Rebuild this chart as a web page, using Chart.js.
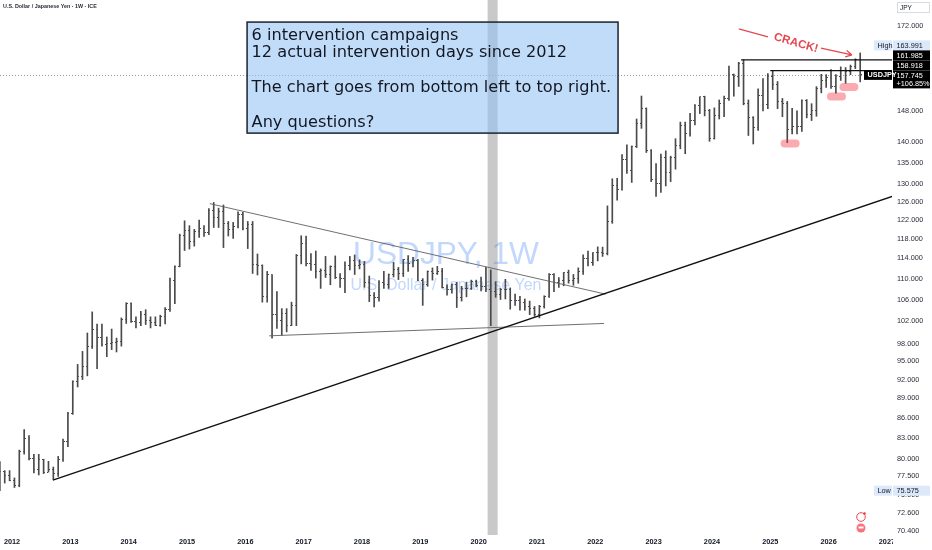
<!DOCTYPE html>
<html>
<head>
<meta charset="utf-8">
<script src="https://cdn.jsdelivr.net/npm/chart.js@4.4.1/dist/chart.umd.min.js"></script>
<style>
  html, body { margin: 0; padding: 0; background: #fff; }
</style>
</head>
<body>
<canvas id="chart" width="932" height="550"></canvas>
<script>
// ---- data (monthly USDJPY bars) ----
const firstMonth = '2011-10';
const yearTicks = [2012, 2013, 2014, 2015, 2016, 2017, 2018, 2019, 2020, 2021, 2022, 2023, 2024, 2025, 2026, 2027];
const priceTicks = [70.4, 72.6, 75, 77.5, 80, 83, 86, 89, 92, 95, 98, 102, 106, 110, 114, 118, 122, 126, 130, 135, 140, 148, 172];

const opens = [
  77.0, 78.2, 77.6,
  76.9, 76.2, 81.0, 82.9, 80.0, 78.4, 79.8, 78.1, 78.4, 77.9, 79.8, 82.5,
  86.7, 91.7, 92.5, 94.2, 97.5, 100.5, 99.1, 97.9, 98.1, 98.3, 98.4, 102.4,
  105.3, 102.0, 101.8, 103.2, 102.2, 101.8, 101.3, 102.8, 104.1, 109.6, 112.3, 118.7,
  119.8, 117.5, 119.6, 120.1, 119.4, 124.1, 122.5, 123.9, 121.2, 119.9, 120.6, 123.1,
  120.2, 121.1, 112.7, 112.6, 106.5, 110.7, 103.2, 102.1, 103.4, 101.3, 104.8, 114.5,
  117.0, 113.0, 112.8, 111.4, 111.5, 110.8, 112.4, 110.3, 110.0, 112.5, 113.6, 112.5,
  112.7, 109.2, 106.7, 106.3, 109.3, 108.8, 110.7, 111.8, 111.0, 113.7, 112.9, 113.5,
  109.7, 108.9, 111.4, 110.9, 111.4, 108.3, 107.9, 108.8, 106.3, 108.1, 108.0, 109.5,
  108.7, 108.4, 107.9, 107.5, 106.9, 107.8, 107.9, 105.9, 105.9, 105.5, 104.7, 104.3,
  103.2, 104.7, 106.6, 110.7, 109.3, 109.6, 111.1, 109.7, 110.0, 111.3, 113.9, 113.2,
  115.1, 115.1, 115.0, 121.7, 129.8, 128.7, 135.7, 133.3, 138.9, 144.7, 148.7, 138.1,
  131.1, 130.1, 136.2, 132.8, 136.3, 139.3, 144.3, 142.3, 145.5, 149.4, 151.7, 148.2,
  141.0, 146.9, 150.0, 151.35, 157.8, 157.3, 160.9, 150.0, 146.2, 143.6, 152.0, 149.8,
  157.2, 155.2, 150.6, 149.9, 143.1, 144.0, 144.0, 150.7, 147.1, 148.0, 154.1, 156.2,
  156.9, 154.6, 157.4, 158.9, 158.6, 160.2, 162.0
];
const highs = [
  79.55, 78.3, 78.3,
  77.3, 81.2, 84.2, 83.3, 80.6, 80.6, 79.9, 79.6, 78.8, 80.3, 82.8, 86.8,
  91.8, 94.5, 96.7, 99.9, 103.7, 101.5, 101.5, 99.2, 100.6, 99.0, 102.6, 105.4,
  105.4, 102.8, 103.8, 104.1, 102.8, 102.8, 103.1, 104.5, 110.1, 112.5, 119.0, 121.85,
  120.8, 120.0, 122.0, 120.8, 124.5, 125.86, 124.6, 125.3, 121.7, 121.5, 123.8, 123.7,
  121.7, 121.7, 114.9, 112.7, 111.4, 110.8, 107.5, 104.3, 104.3, 105.5, 114.8, 118.66,
  118.6, 114.95, 115.5, 111.9, 114.4, 112.5, 114.5, 111.0, 113.3, 114.4, 114.7, 113.7,
  113.4, 110.5, 107.3, 109.6, 111.4, 110.9, 113.2, 112.2, 113.8, 114.55, 114.2, 113.8,
  110.0, 111.5, 112.1, 112.4, 112.0, 108.8, 109.0, 109.3, 108.5, 109.3, 109.7, 109.7,
  110.3, 112.2, 111.7, 109.4, 108.1, 109.85, 108.2, 107.0, 106.6, 106.1, 105.7, 104.7,
  104.9, 106.7, 110.97, 110.96, 110.2, 111.2, 111.66, 110.8, 112.1, 114.7, 115.5, 115.2,
  116.35, 116.3, 125.1, 131.25, 131.35, 137.0, 139.4, 139.1, 145.9, 151.95, 148.8, 138.2,
  134.8, 137.1, 137.9, 136.6, 140.9, 145.1, 145.1, 147.4, 149.7, 151.75, 151.9, 148.4,
  148.8, 150.9, 151.97, 160.2, 157.99, 161.3, 161.98, 150.9, 146.5, 153.9, 156.75, 158.1,
  158.87, 155.9, 151.3, 150.5, 148.65, 148.0, 150.9, 151.0, 149.9, 154.5, 157.9, 157.8,
  159.2, 157.8, 160.0, 159.8, 160.5, 162.3, 163.991
];
const lows = [
  75.575, 76.6, 76.9,
  76.0, 76.1, 80.6, 79.8, 78.0, 77.7, 77.9, 78.1, 77.1, 77.5, 79.6, 81.7,
  86.5, 90.8, 92.0, 92.6, 97.2, 93.8, 97.6, 95.8, 97.0, 96.6, 97.6, 101.6,
  101.8, 100.8, 101.2, 101.4, 100.8, 101.2, 101.1, 101.5, 103.8, 105.2, 112.3, 115.6,
  115.9, 116.5, 118.3, 118.5, 118.9, 120.4, 120.4, 116.2, 118.6, 118.1, 120.3, 119.9,
  116.0, 111.0, 110.7, 105.5, 105.5, 99.0, 100.7, 99.5, 100.1, 101.2, 101.2, 112.9,
  112.5, 111.6, 110.1, 108.1, 110.2, 108.8, 110.0, 108.3, 107.3, 111.7, 110.8, 111.9,
  108.3, 105.6, 104.6, 105.7, 108.1, 108.1, 110.3, 109.8, 110.4, 111.4, 112.3, 109.6,
  104.9, 108.5, 109.7, 110.8, 108.2, 106.8, 107.2, 104.5, 105.7, 106.5, 107.9, 108.4,
  107.6, 107.5, 101.2, 106.4, 106.0, 106.1, 104.2, 104.9, 104.0, 104.0, 103.2, 102.9,
  102.6, 104.4, 106.4, 107.5, 108.3, 108.6, 109.1, 108.7, 109.1, 110.8, 112.5, 112.6,
  113.5, 114.4, 114.7, 121.3, 126.4, 128.65, 132.5, 130.4, 138.7, 143.5, 137.5, 130.6,
  127.2, 128.1, 129.6, 130.6, 133.5, 138.4, 137.2, 141.5, 144.4, 147.3, 146.7, 140.25,
  140.8, 145.9, 146.5, 150.8, 151.9, 154.55, 149.6, 141.7, 139.58, 142.97, 148.0, 148.6,
  153.7, 148.6, 146.5, 139.9, 142.1, 142.1, 142.7, 146.2, 145.5, 146.6, 152.8, 154.3,
  154.0, 152.7, 156.2, 155.4, 157.8, 159.5, 155.8
];
const closes = [
  78.2, 77.6, 76.9,
  76.2, 81.0, 82.9, 80.0, 78.4, 79.8, 78.1, 78.4, 77.9, 79.8, 82.5, 86.7,
  91.7, 92.5, 94.2, 97.5, 100.5, 99.1, 97.9, 98.1, 98.3, 98.4, 102.4, 105.3,
  102.0, 101.8, 103.2, 102.2, 101.8, 101.3, 102.8, 104.1, 109.6, 112.3, 118.7, 119.8,
  117.5, 119.6, 120.1, 119.4, 124.1, 122.5, 123.9, 121.2, 119.9, 120.6, 123.1, 120.2,
  121.1, 112.7, 112.6, 106.5, 110.7, 103.2, 102.1, 103.4, 101.3, 104.8, 114.5, 117.0,
  113.0, 112.8, 111.4, 111.5, 110.8, 112.4, 110.3, 110.0, 112.5, 113.6, 112.5, 112.7,
  109.2, 106.7, 106.3, 109.3, 108.8, 110.7, 111.8, 111.0, 113.7, 112.9, 113.5, 109.7,
  108.9, 111.4, 110.9, 111.4, 108.3, 107.9, 108.8, 106.3, 108.1, 108.0, 109.5, 108.7,
  108.4, 107.9, 107.5, 106.9, 107.8, 107.9, 105.9, 105.9, 105.5, 104.7, 104.3, 103.2,
  104.7, 106.6, 110.7, 109.3, 109.6, 111.1, 109.7, 110.0, 111.3, 113.9, 113.2, 115.1,
  115.1, 115.0, 121.7, 129.8, 128.7, 135.7, 133.3, 138.9, 144.7, 148.7, 138.1, 131.1,
  130.1, 136.2, 132.8, 136.3, 139.3, 144.3, 142.3, 145.5, 149.4, 151.7, 148.2, 141.0,
  146.9, 150.0, 151.35, 157.8, 157.3, 160.9, 150.0, 146.2, 143.6, 152.0, 149.8, 157.2,
  155.2, 150.6, 149.9, 143.1, 144.0, 144.0, 150.7, 147.1, 148.0, 154.1, 156.2, 156.9,
  154.6, 157.4, 158.9, 158.6, 160.2, 162.0, 157.745
];
const changeText = '+106.85%';
const levels = [161.985, 158.918];

// months as 'YYYY-MM', one per bar
const months = [];
for (let i = 0; i < closes.length; i++) {
  const m = +firstMonth.slice(5) - 1 + i;
  months.push((+firstMonth.slice(0, 4) + Math.floor(m / 12)) + '-' + String(m % 12 + 1).padStart(2, '0'));
}
const toYear = s => +s.slice(0, 4) + (+s.slice(5) - 0.5) / 12;

// ---- drawings on the chart, anchored in (year, price) ----
const covidBand = [2020.154, 2020.326];
const trendLines = [
  { from: [2012.70, 77.0], to: [2027.09, 127.2], color: '#111', width: 1.4 },
  { from: [2015.39, 125.6], to: [2022.18, 107.0], color: '#5d6068', width: 0.9 },
  { from: [2016.41, 99.4], to: [2022.15, 101.6], color: '#5d6068', width: 0.9 },
  { from: [2024.50, levels[0]], to: [2027.09, levels[0]], color: '#111', width: 1.3 },
  { from: [2025.00, levels[1]], to: [2027.09, levels[1]], color: '#111', width: 1.3 }
];
const noteLines = ['6 intervention campaigns', '12 actual intervention days since 2012', '',
  'The chart goes from bottom left to top right.', '', 'Any questions?'];
const noteBox = { x0: 2016.03, x1: 2022.39, top: 173.2, bottom: 142.3 };
const dips = [[2025.34, 139.7], [2026.135, 151.8], [2026.349, 154.4]];
const crack = { at: [2025.44, 166.9], lead: [[2024.46, 171.1], [2024.96, 168.7]], arrow: [[2025.87, 165.4], [2026.40, 163.4]] };

const barColor = '#4a4a4a';
const sans = "'Liberation Sans', Arial, sans-serif";

function tickImage(side) {
  const c = document.createElement('canvas');
  c.width = 3; c.height = 1;
  const g = c.getContext('2d');
  g.fillStyle = barColor;
  g.fillRect(side < 0 ? 0 : 2, 0, 1, 1);
  return c;
}

function fitSize(ctx, text, width, family, weight) {
  ctx.font = weight + ' 100px ' + family;
  return 100 * width / ctx.measureText(text).width;
}

function pill(ctx, cx, cy, w, h) {
  const r = h / 2;
  ctx.beginPath();
  ctx.moveTo(cx - w / 2 + r, cy - r);
  ctx.lineTo(cx + w / 2 - r, cy - r);
  ctx.arc(cx + w / 2 - r, cy, r, -Math.PI / 2, Math.PI / 2);
  ctx.lineTo(cx - w / 2 + r, cy + r);
  ctx.arc(cx - w / 2 + r, cy, r, Math.PI / 2, Math.PI * 1.5);
  ctx.fill();
}

const overlay = {
  id: 'overlay',
  beforeDatasetsDraw(chart) {
    const { ctx, chartArea: a, scales: { x, y } } = chart;
    ctx.save();
    // shaded week
    const b0 = x.getPixelForValue(covidBand[0]), b1 = x.getPixelForValue(covidBand[1]);
    ctx.fillStyle = '#c9c9c9';
    ctx.fillRect(b0, a.top, b1 - b0, a.bottom - a.top);

    // watermark
    const cx = (a.left + a.right) / 2, cy = (a.top + a.bottom) / 2;
    ctx.fillStyle = 'rgba(66,133,244,0.33)';
    ctx.textAlign = 'center';
    ctx.textBaseline = 'middle';
    let s = fitSize(ctx, 'USDJPY, 1W', 186, sans, 'normal');
    ctx.font = s + 'px ' + sans;
    ctx.fillText('USDJPY, 1W', cx, cy - 12);
    s = fitSize(ctx, 'U.S. Dollar / Japanese Yen', 191, sans, 'normal');
    ctx.font = s + 'px ' + sans;
    ctx.fillText('U.S. Dollar / Japanese Yen', cx, cy + 18);

    // last price line
    const yc = Math.round(y.getPixelForValue(closes[closes.length - 1])) + 0.5;
    ctx.strokeStyle = '#9598a1';
    ctx.lineWidth = 1;
    ctx.setLineDash([1, 2]);
    ctx.beginPath();
    ctx.moveTo(a.left, yc);
    ctx.lineTo(a.right, yc);
    ctx.stroke();
    ctx.restore();
  },
  afterDatasetsDraw(chart) {
    const { ctx, scales: { x, y } } = chart;
    const px = p => [x.getPixelForValue(p[0]), y.getPixelForValue(p[1])];
    ctx.save();

    // dip markers
    ctx.fillStyle = 'rgba(242,54,69,0.42)';
    dips.forEach(d => { const [cx, cy] = px(d); pill(ctx, cx, cy, 19, 8); });

    // note box
    const bx0 = x.getPixelForValue(noteBox.x0), bx1 = x.getPixelForValue(noteBox.x1);
    const by0 = y.getPixelForValue(noteBox.top), by1 = y.getPixelForValue(noteBox.bottom);
    ctx.fillStyle = 'rgba(148,194,245,0.58)';
    ctx.fillRect(bx0, by0, bx1 - bx0, by1 - by0);
    ctx.strokeStyle = '#1e222d';
    ctx.lineWidth = 1.5;
    ctx.strokeRect(bx0, by0, bx1 - bx0, by1 - by0);
    const fs = fitSize(ctx, noteLines[3], 360, "'DejaVu Sans'", 'normal');
    ctx.font = fs + "px 'DejaVu Sans'";
    ctx.fillStyle = '#131722';
    ctx.textBaseline = 'middle';
    ctx.textAlign = 'left';
    noteLines.forEach((t, i) => ctx.fillText(t, bx0 + 4.5, by0 + 13.8 + i * 17.4));

    // CRACK! arrow
    const red = '#e5474f';
    ctx.strokeStyle = red;
    ctx.fillStyle = red;
    ctx.lineWidth = 1.3;
    const [l0, l1] = crack.lead.map(px);
    const [a0, a1] = crack.arrow.map(px);
    ctx.beginPath();
    ctx.moveTo(l0[0], l0[1]); ctx.lineTo(l1[0], l1[1]);
    ctx.moveTo(a0[0], a0[1]); ctx.lineTo(a1[0], a1[1]);
    const ang = Math.atan2(a1[1] - a0[1], a1[0] - a0[0]);
    [0.5, -0.5].forEach(d => {
      ctx.moveTo(a1[0], a1[1]);
      ctx.lineTo(a1[0] - 7 * Math.cos(ang + d), a1[1] - 7 * Math.sin(ang + d));
    });
    ctx.stroke();
    const [tx, ty] = px(crack.at);
    ctx.translate(tx, ty);
    ctx.rotate(16 * Math.PI / 180);
    ctx.font = 'bold 11.5px ' + sans;
    ctx.textAlign = 'center';
    ctx.fillText('CRACK!', 0, 0);
    ctx.restore();
  },
  afterDraw(chart) {
    const { ctx, chartArea: a, scales: { y } } = chart;
    ctx.save();
    // hide the year label running into the price scale
    ctx.fillStyle = '#fff';
    ctx.fillRect(a.right + 1, a.bottom + 1, chart.width - a.right, chart.height - a.bottom);

    ctx.textBaseline = 'middle';
    ctx.textAlign = 'left';
    const L = a.right + 1, W = chart.width - 2 - L;
    const lbl = (x0, y0, w, h, bg, text, color, weight) => {
      ctx.fillStyle = bg;
      ctx.fillRect(x0, y0, w, h);
      ctx.fillStyle = color;
      ctx.font = (weight || 'normal') + ' 7.3px ' + sans;
      ctx.fillText(text, x0 + 3.5, y0 + h / 2 + 0.3);
    };
    const hiBg = '#dce9fb';
    const last = closes[closes.length - 1];
    const yc = y.getPixelForValue(last);
    const hi = Math.max(...highs), lo = Math.min(...lows);

    lbl(a.right - 18, yc - 34.5, 18, 10, hiBg, 'High', '#131722');
    lbl(L, yc - 34.5, W, 10, hiBg, hi.toFixed(3), '#131722');
    lbl(L, yc - 24.5, W, 10, '#000', levels[0].toFixed(3), '#fff');
    lbl(L, yc - 14.5, W, 10, '#000', levels[1].toFixed(3), '#fff');
    lbl(L, yc - 4.5, W, 18, '#000', '', '#fff');
    ctx.fillStyle = '#fff';
    ctx.fillText(last.toFixed(3), L + 3.5, yc + 0.8);
    ctx.fillText(changeText, L + 3.5, yc + 9);
    lbl(a.right - 28, yc - 4.5, 28, 9.5, '#000', 'USDJPY', '#fff', 'bold');

    const yl = y.getPixelForValue(lo);
    lbl(a.right - 18, yl - 5, 18, 10, hiBg, 'Low', '#131722');
    lbl(L, yl - 5, W, 10, hiBg, lo.toFixed(3), '#131722');

    // currency box
    ctx.strokeStyle = '#d9dce3';
    ctx.lineWidth = 1;
    ctx.strokeRect(L + 4.5, 2.5, W - 5, 10);
    ctx.fillStyle = '#131722';
    ctx.font = '6.5px ' + sans;
    ctx.fillText('JPY', L + 7, 7.8);

    // header
    const hs = fitSize(ctx, 'U.S. Dollar / Japanese Yen \u00b7 1W \u00b7 ICE', 94, sans, 'bold');
    ctx.font = 'bold ' + hs + 'px ' + sans;
    ctx.fillStyle = '#2a2e39';
    ctx.fillText('U.S. Dollar / Japanese Yen \u00b7 1W \u00b7 ICE', 3, 6.5);

    // small event icons near the time scale
    const ix = a.right - 31;
    ctx.strokeStyle = '#e5474f';
    ctx.lineWidth = 1;
    ctx.beginPath(); ctx.arc(ix, a.bottom - 18, 4.3, 0, Math.PI * 2); ctx.stroke();
    ctx.fillStyle = '#f23645';
    ctx.beginPath(); ctx.arc(ix + 3.5, a.bottom - 21.5, 1.3, 0, Math.PI * 2); ctx.fill();
    ctx.fillStyle = '#f7727c';
    ctx.beginPath(); ctx.arc(ix, a.bottom - 7, 4.5, 0, Math.PI * 2); ctx.fill();
    ctx.fillStyle = '#fff';
    ctx.fillRect(ix - 2.5, a.bottom - 8.5, 5, 2);
    ctx.restore();
  }
};

const t = months.map(toYear);

new Chart(document.getElementById('chart'), {
  type: 'line',
  data: {
    datasets: [
      {
        type: 'bar',
        data: months.map((m, i) => ({ x: t[i], y: [lows[i], highs[i]] })),
        backgroundColor: barColor,
        barThickness: 1,
        grouped: false,
        order: 3
      },
      {
        data: months.map((m, i) => ({ x: t[i], y: opens[i] })),
        showLine: false,
        pointStyle: tickImage(-1),
        pointRadius: 2,
        order: 2
      },
      {
        data: months.map((m, i) => ({ x: t[i], y: closes[i] })),
        showLine: false,
        pointStyle: tickImage(1),
        pointRadius: 2,
        order: 2
      },
      ...trendLines.map(l => ({
        data: [{ x: l.from[0], y: l.from[1] }, { x: l.to[0], y: l.to[1] }],
        borderColor: l.color,
        borderWidth: l.width,
        pointRadius: 0,
        fill: false,
        order: 1
      }))
    ]
  },
  options: {
    responsive: false,
    animation: false,
    events: [],
    layout: { padding: 0, autoPadding: false },
    plugins: { legend: { display: false }, tooltip: { enabled: false } },
    scales: {
      x: {
        type: 'linear',
        bounds: 'data',
        min: 2011.794,
        max: 2027.087,
        offset: false,
        grid: { display: false, drawTicks: false },
        border: { display: false },
        afterBuildTicks: s => { s.ticks = yearTicks.map(v => ({ value: v })); },
        afterFit: s => { s.height = 15; s.paddingLeft = 0; s.paddingRight = 0; },
        ticks: {
          autoSkip: false,
          maxRotation: 0,
          padding: 3,
          color: '#131722',
          font: { family: sans, size: 7.3, weight: 'bold' },
          callback: v => String(v)
        }
      },
      y: {
        type: 'logarithmic',
        position: 'right',
        bounds: 'data',
        min: 69.87,
        max: 180.1,
        grid: { display: false, drawTicks: false },
        border: { display: false },
        afterBuildTicks: s => { s.ticks = priceTicks.map(v => ({ value: v })); },
        afterFit: s => { s.width = 40; s.paddingTop = 0; s.paddingBottom = 0; },
        ticks: {
          autoSkip: false,
          padding: 5,
          color: '#2a2e39',
          font: { family: sans, size: 7.3 },
          callback: v => Number(v).toFixed(3)
        }
      }
    }
  },
  plugins: [overlay]
});
</script>
</body>
</html>
